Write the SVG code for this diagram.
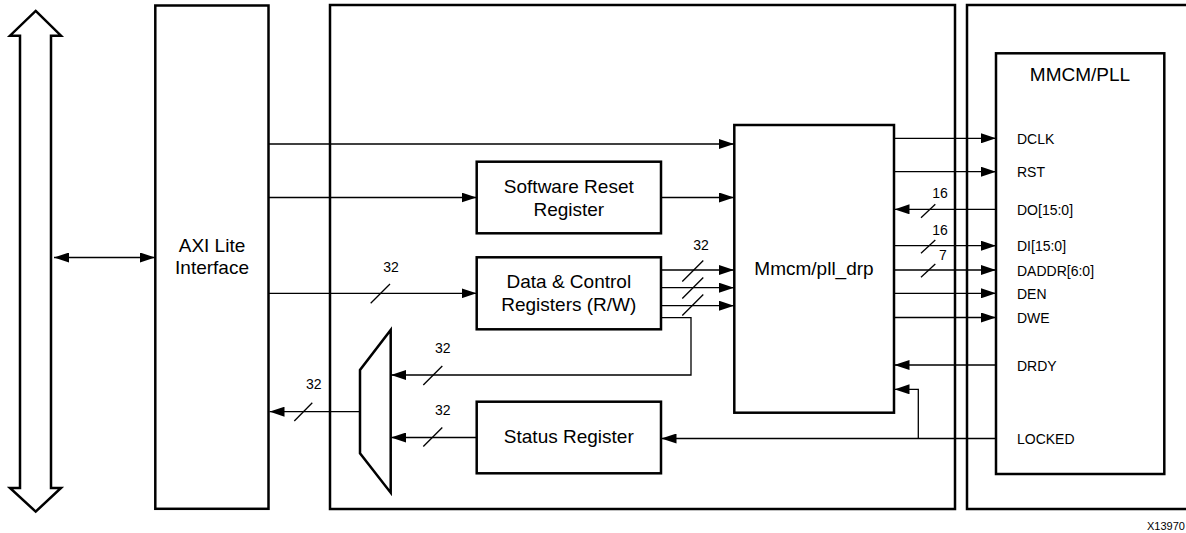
<svg xmlns="http://www.w3.org/2000/svg" width="1186" height="533" viewBox="0 0 1186 533">
<style>
.box{fill:#fff;stroke:#000;stroke-width:2.5}
.frame{fill:none;stroke:#000;stroke-width:2.5}
.w{fill:none;stroke:#000;stroke-width:1.3}
.a{marker-end:url(#ah)}
.t{font-family:"Liberation Sans",Arial,sans-serif;font-size:19px;fill:#000;text-anchor:middle}
.s{font-family:"Liberation Sans",Arial,sans-serif;font-size:14px;fill:#000}
.n{font-family:"Liberation Sans",Arial,sans-serif;font-size:14px;fill:#000}
</style>
<defs>
<marker id="ah" markerUnits="userSpaceOnUse" markerWidth="15" markerHeight="10" refX="15" refY="5" orient="auto-start-reverse" viewBox="0 0 15 10">
<path d="M0,0 L15,5 L0,10 z" fill="#000"/>
</marker>
</defs>
<rect width="1186" height="533" fill="#fff"/>

<g id="bus">
<polygon class="frame" points="35.7,10.9 61,35.7 51,35.7 51,488 61,488 35.7,511.6 10,488 20,488 20,35.7 10,35.7"/>
</g>

<g id="periph_frame">
<rect class="frame" x="330" y="5" width="625" height="504"/>
</g>
<g id="fpga_frame">
<path class="frame" d="M1190,5 H967 V509 H1190"/>
</g>

<g id="axi">
<rect class="box" x="155.3" y="5.5" width="113.2" height="503.3"/>
<text class="t" x="212" y="251.7">AXI Lite</text>
<text class="t" x="212" y="274">Interface</text>
</g>

<g id="swreset">
<rect class="box" x="476.7" y="161.7" width="184.3" height="71.6"/>
<text class="t" x="568.8" y="193">Software Reset</text>
<text class="t" x="568.8" y="215.7">Register</text>
</g>

<g id="datactrl">
<rect class="box" x="476.7" y="257.3" width="184.3" height="72"/>
<text class="t" x="568.8" y="288.3">Data &amp; Control</text>
<text class="t" x="568.8" y="311">Registers (R/W)</text>
</g>

<g id="status">
<rect class="box" x="476.7" y="401.7" width="184.3" height="71.6"/>
<text class="t" x="568.8" y="443.3">Status Register</text>
</g>

<g id="mux">
<polygon class="frame" points="390.7,330 390.7,492.7 360,453.3 360,370"/>
</g>

<g id="drp">
<rect class="box" x="734.3" y="125" width="159.7" height="287.7"/>
<text class="t" x="814" y="275">Mmcm/pll_drp</text>
</g>

<g id="mmcm">
<rect class="box" x="996" y="53.3" width="168.3" height="420.7"/>
<text class="t" x="1080" y="81">MMCM/PLL</text>
<text class="s" x="1017" y="143.8">DCLK</text>
<text class="s" x="1017" y="177.2">RST</text>
<text class="s" x="1017" y="214.8">DO[15:0]</text>
<text class="s" x="1017" y="251.2">DI[15:0]</text>
<text class="s" x="1017" y="275.5">DADDR[6:0]</text>
<text class="s" x="1017" y="298.8">DEN</text>
<text class="s" x="1017" y="323">DWE</text>
<text class="s" x="1017" y="370.5">DRDY</text>
<text class="s" x="1017" y="444">LOCKED</text>
</g>

<g id="connectors">
<path class="w" marker-start="url(#ah)" marker-end="url(#ah)" d="M54,257.5 H155"/>
<path class="w a" d="M268.5,144 H734"/>
<path class="w a" d="M268.5,197.5 H476.5"/>
<path class="w a" d="M661,197.5 H734"/>
<path class="w a" d="M268.5,293.3 H476.5"/>
<path class="w a" d="M661,270 H734"/>
<path class="w a" d="M661,287.7 H734"/>
<path class="w a" d="M661,305.7 H734"/>
<path class="w a" d="M661,317.7 H691 V375 H391"/>
<path class="w a" d="M476.5,437.5 H391"/>
<path class="w a" d="M360,411.7 H269.5"/>
<path class="w a" d="M894,138.3 H996"/>
<path class="w a" d="M894,171.7 H996"/>
<path class="w a" d="M996,209.3 H894.5"/>
<path class="w a" d="M894,245.7 H996"/>
<path class="w a" d="M894,270 H996"/>
<path class="w a" d="M894,293.3 H996"/>
<path class="w a" d="M894,317.5 H996"/>
<path class="w a" d="M996,365 H894.5"/>
<path class="w a" d="M996,438.5 H661.5"/>
<path class="w a" d="M918.3,438.5 V389.3 H894.5"/>
</g>

<g id="buswidths">
<path class="w" d="M370.7,303.3 L390,284"/>
<text class="n" x="383.3" y="271.7">32</text>
<path class="w" d="M682.3,281.5 L703.3,260.5 M682.3,298.5 L703.3,277.5 M682.3,315.5 L703.3,294.5"/>
<text class="n" x="693.3" y="250">32</text>
<path class="w" d="M423.3,385 L442.3,366"/>
<text class="n" x="435" y="353.3">32</text>
<path class="w" d="M423.3,446.5 L442.3,427.5"/>
<text class="n" x="435" y="415">32</text>
<path class="w" d="M294.3,421 L312.3,402.7"/>
<text class="n" x="306" y="389.3">32</text>
<path class="w" d="M921,217.7 L935.3,204.3"/>
<text class="n" x="932.3" y="198.3">16</text>
<path class="w" d="M921,253.3 L935.3,240"/>
<text class="n" x="932.3" y="235">16</text>
<path class="w" d="M921,277.3 L935.3,264"/>
<text class="n" x="939" y="260">7</text>
</g>

<text x="1147" y="530" font-family="'Liberation Sans',Arial,sans-serif" font-size="11" fill="#000">X13970</text>
</svg>
